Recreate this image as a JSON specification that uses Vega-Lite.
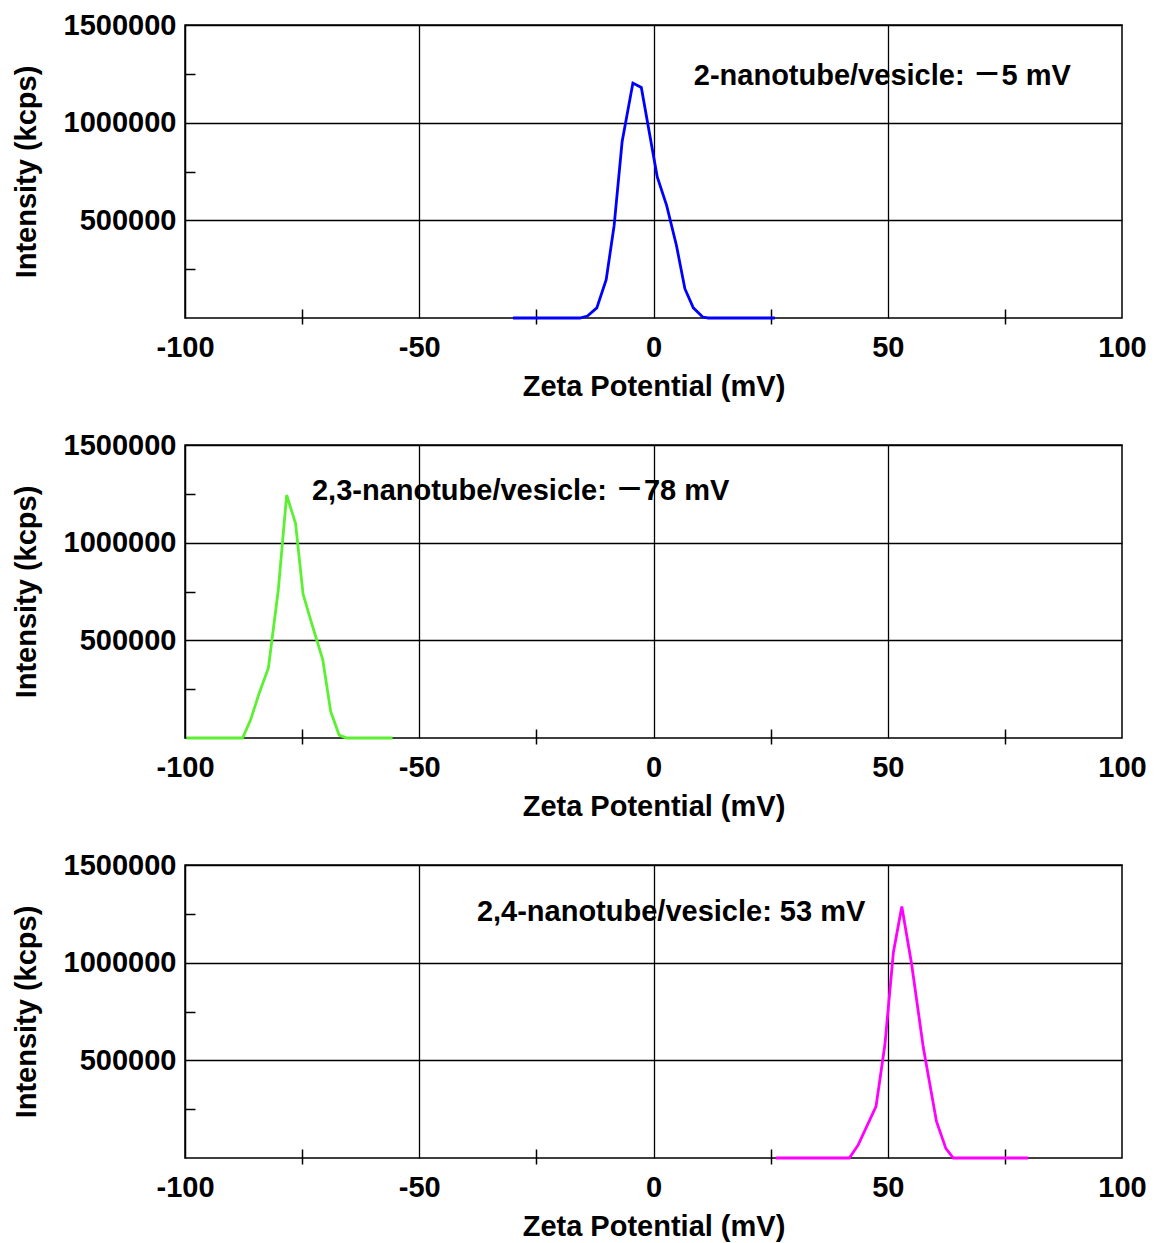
{
  "$schema": "https://vega.github.io/schema/vega-lite/v6.json",
  "background": "white",
  "padding": {"left": 11, "top": 10, "right": 10, "bottom": 5},
  "datasets": {
    "p1": [
      {"x": -30, "y": 0}, {"x": -15.7, "y": 0}, {"x": -14.1, "y": 10000}, {"x": -12.1, "y": 52000},
      {"x": -10.1, "y": 196000}, {"x": -8.4, "y": 474000}, {"x": -6.7, "y": 902000}, {"x": -4.4, "y": 1203000},
      {"x": -2.6, "y": 1180000}, {"x": 0.1, "y": 816000}, {"x": 0.8, "y": 722000}, {"x": 2.8, "y": 577000},
      {"x": 4.9, "y": 371000}, {"x": 6.7, "y": 150000}, {"x": 8.5, "y": 52000}, {"x": 10.5, "y": 5000},
      {"x": 11.7, "y": 0}, {"x": 25.9, "y": 0}
    ],
    "p2": [
      {"x": -99.7, "y": 0}, {"x": -87.7, "y": 0}, {"x": -86.0, "y": 92800}, {"x": -84.2, "y": 227000},
      {"x": -82.2, "y": 359000}, {"x": -80.1, "y": 755000}, {"x": -78.3, "y": 1244000}, {"x": -76.4, "y": 1098000},
      {"x": -74.8, "y": 737000}, {"x": -72.8, "y": 574000}, {"x": -70.6, "y": 402000}, {"x": -68.9, "y": 136000},
      {"x": -67.1, "y": 15000}, {"x": -65.5, "y": 0}, {"x": -55.7, "y": 0}
    ],
    "p3": [
      {"x": 26.1, "y": 0}, {"x": 41.8, "y": 0}, {"x": 43.7, "y": 67000}, {"x": 47.5, "y": 264000},
      {"x": 49.4, "y": 581000}, {"x": 51.2, "y": 1052000}, {"x": 53.0, "y": 1287000}, {"x": 55.1, "y": 992000},
      {"x": 57.6, "y": 564000}, {"x": 60.4, "y": 187000}, {"x": 62.4, "y": 49000}, {"x": 64.0, "y": 0},
      {"x": 80.0, "y": 0}
    ],
    "ann": [
      {"panel": 1, "x": 8.6, "y": 1237000, "label": "2-nanotube/vesicle: －5 mV"},
      {"panel": 2, "x": -72.9, "y": 1266000, "label": "2,3-nanotube/vesicle: －78 mV"},
      {"panel": 3, "x": -37.7, "y": 1259000, "label": "2,4-nanotube/vesicle: 53 mV"}
    ]
  },
  "vconcat": [
    {
      "width": 937, "height": 293,
      "resolve": {"scale": {"x": "shared"}, "axis": {"x": "independent"}},
      "layer": [
        {"data": {"name": "p1"}, "mark": {"type": "line", "color": "#0000ff", "strokeWidth": 2.8},
         "encoding": {
           "x": {"field": "x", "type": "quantitative", "scale": {"domain": [-100, 100], "nice": false},
                 "axis": {"orient": "bottom", "title": "Zeta Potential (mV)", "values": [-100, -75, -50, -25, 0, 25, 50, 75, 100],
                          "offset": -9, "tickSize": 15, "labelPadding": 9, "grid": false, "domain": false,
                          "labelExpr": "datum.value % 50 === 0 ? '' + datum.value : ''",
                          "tickOpacity": {"condition": {"test": "datum.value % 50 !== 0", "value": 1}, "value": 0}}},
           "y": {"field": "y", "type": "quantitative", "scale": {"domain": [0, 1500000], "nice": false},
                 "axis": {"title": "Intensity (kcps)", "values": [250000, 500000, 750000, 1000000, 1250000, 1500000],
                          "labelExpr": "datum.value % 500000 === 0 ? '' + datum.value : ''",
                          "tickOpacity": {"condition": {"test": "datum.value % 500000 !== 0", "value": 1}, "value": 0},
                          "gridOpacity": {"condition": {"test": "datum.value % 500000 === 0", "value": 1}, "value": 0}}}
         }},
        {"data": {"name": "ann"}, "transform": [{"filter": "datum.panel == 1"}],
         "mark": {"type": "text", "align": "left", "baseline": "middle", "fontSize": 29, "fontWeight": "bold", "font": "Liberation Sans, Noto Sans CJK SC", "color": "black"},
         "encoding": {"x": {"field": "x", "type": "quantitative",
                            "axis": {"orient": "top", "values": [-50, 0, 50], "grid": true, "ticks": false, "labels": false, "domain": false, "title": null}},
                      "y": {"field": "y", "type": "quantitative"}, "text": {"field": "label"}}}
      ]
    },
    {
      "width": 937, "height": 293,
      "resolve": {"scale": {"x": "shared"}, "axis": {"x": "independent"}},
      "layer": [
        {"data": {"name": "p2"}, "mark": {"type": "line", "color": "#5cf032", "strokeWidth": 2.8},
         "encoding": {
           "x": {"field": "x", "type": "quantitative", "scale": {"domain": [-100, 100], "nice": false},
                 "axis": {"orient": "bottom", "title": "Zeta Potential (mV)", "values": [-100, -75, -50, -25, 0, 25, 50, 75, 100],
                          "offset": -9, "tickSize": 15, "labelPadding": 9, "grid": false, "domain": false,
                          "labelExpr": "datum.value % 50 === 0 ? '' + datum.value : ''",
                          "tickOpacity": {"condition": {"test": "datum.value % 50 !== 0", "value": 1}, "value": 0}}},
           "y": {"field": "y", "type": "quantitative", "scale": {"domain": [0, 1500000], "nice": false},
                 "axis": {"title": "Intensity (kcps)", "values": [250000, 500000, 750000, 1000000, 1250000, 1500000],
                          "labelExpr": "datum.value % 500000 === 0 ? '' + datum.value : ''",
                          "tickOpacity": {"condition": {"test": "datum.value % 500000 !== 0", "value": 1}, "value": 0},
                          "gridOpacity": {"condition": {"test": "datum.value % 500000 === 0", "value": 1}, "value": 0}}}
         }},
        {"data": {"name": "ann"}, "transform": [{"filter": "datum.panel == 2"}],
         "mark": {"type": "text", "align": "left", "baseline": "middle", "fontSize": 29, "fontWeight": "bold", "font": "Liberation Sans, Noto Sans CJK SC", "color": "black"},
         "encoding": {"x": {"field": "x", "type": "quantitative",
                            "axis": {"orient": "top", "values": [-50, 0, 50], "grid": true, "ticks": false, "labels": false, "domain": false, "title": null}},
                      "y": {"field": "y", "type": "quantitative"}, "text": {"field": "label"}}}
      ]
    },
    {
      "width": 937, "height": 293,
      "resolve": {"scale": {"x": "shared"}, "axis": {"x": "independent"}},
      "layer": [
        {"data": {"name": "p3"}, "mark": {"type": "line", "color": "#ff00ff", "strokeWidth": 2.8},
         "encoding": {
           "x": {"field": "x", "type": "quantitative", "scale": {"domain": [-100, 100], "nice": false},
                 "axis": {"orient": "bottom", "title": "Zeta Potential (mV)", "values": [-100, -75, -50, -25, 0, 25, 50, 75, 100],
                          "offset": -9, "tickSize": 15, "labelPadding": 9, "grid": false, "domain": false,
                          "labelExpr": "datum.value % 50 === 0 ? '' + datum.value : ''",
                          "tickOpacity": {"condition": {"test": "datum.value % 50 !== 0", "value": 1}, "value": 0}}},
           "y": {"field": "y", "type": "quantitative", "scale": {"domain": [0, 1500000], "nice": false},
                 "axis": {"title": "Intensity (kcps)", "values": [250000, 500000, 750000, 1000000, 1250000, 1500000],
                          "labelExpr": "datum.value % 500000 === 0 ? '' + datum.value : ''",
                          "tickOpacity": {"condition": {"test": "datum.value % 500000 !== 0", "value": 1}, "value": 0},
                          "gridOpacity": {"condition": {"test": "datum.value % 500000 === 0", "value": 1}, "value": 0}}}
         }},
        {"data": {"name": "ann"}, "transform": [{"filter": "datum.panel == 3"}],
         "mark": {"type": "text", "align": "left", "baseline": "middle", "fontSize": 29, "fontWeight": "bold", "font": "Liberation Sans, Noto Sans CJK SC", "color": "black"},
         "encoding": {"x": {"field": "x", "type": "quantitative",
                            "axis": {"orient": "top", "values": [-50, 0, 50], "grid": true, "ticks": false, "labels": false, "domain": false, "title": null}},
                      "y": {"field": "y", "type": "quantitative"}, "text": {"field": "label"}}}
      ]
    }
  ],
  "spacing": 127,
  "bounds": "flush",
  "config": {
    "view": {"stroke": "black", "strokeWidth": 1.5},
    "axis": {
      "domainColor": "black", "domainWidth": 1.5,
      "gridColor": "black", "gridWidth": 1.3,
      "tickColor": "black", "tickWidth": 1.5,
      "labelFont": "Liberation Sans", "labelFontSize": 29, "labelFontWeight": "bold", "labelColor": "black",
      "titleFont": "Liberation Sans", "titleFontSize": 29, "titleFontWeight": "bold", "titleColor": "black",
      "labelOverlap": false, "labelFlush": false
    },
    "axisX": {"titlePadding": 10},
    "axisY": {"tickSize": -10, "labelPadding": 19, "titlePadding": 22}
  }
}
